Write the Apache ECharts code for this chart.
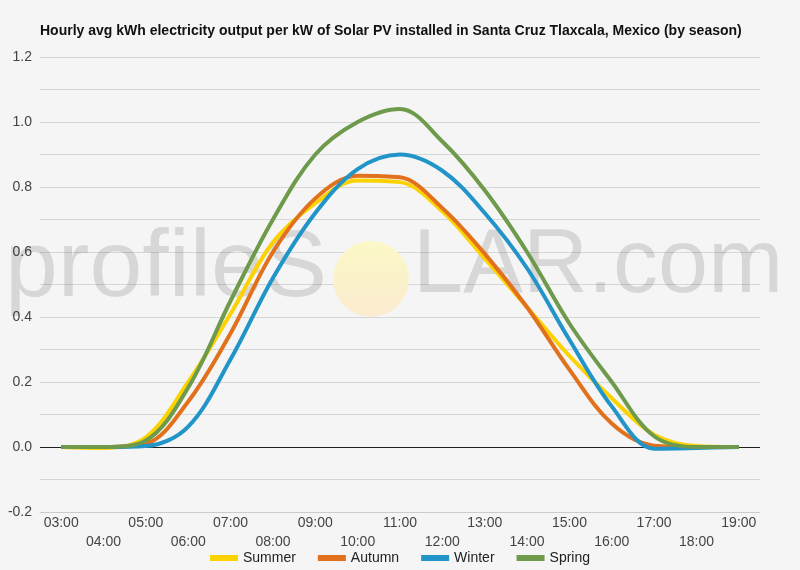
<!DOCTYPE html>
<html>
<head>
<meta charset="utf-8">
<script src="https://cdn.jsdelivr.net/npm/echarts@6/dist/echarts.min.js"></script>
<style>
  html, body { margin: 0; padding: 0; background: #f5f5f5; }
  #chart { width: 800px; height: 570px; }
</style>
</head>
<body>
<div id="chart"></div>
<script>
// hourly values
const hours = ['03:00', '04:00', '05:00', '06:00', '07:00', '08:00', '09:00', '10:00', '11:00',
    '12:00', '13:00', '14:00', '15:00', '16:00', '17:00', '18:00', '19:00'];
const summer = [0, -0.003, 0.03, 0.2, 0.41, 0.63, 0.75, 0.82, 0.815, 0.725, 0.58, 0.43, 0.28, 0.15, 0.038, 0.003, 0];
const autumn = [0, 0, 0.01, 0.14, 0.35, 0.6, 0.765, 0.835, 0.83, 0.735, 0.595, 0.43, 0.238, 0.072, 0.004, 0, 0];
const winter = [0, 0, 0.003, 0.063, 0.27, 0.52, 0.72, 0.855, 0.9, 0.85, 0.72, 0.55, 0.33, 0.125, -0.005, -0.003, 0];
const spring = [0, 0, 0.02, 0.183, 0.45, 0.7, 0.9, 1.0, 1.04, 0.94, 0.79, 0.6, 0.38, 0.2, 0.033, 0, 0];

const seasons = ['Summer', 'Autumn', 'Winter', 'Spring'];
const colors = ['#fcd200', '#e2711d', '#2194c8', '#6e9a4c'];
const values = [summer, autumn, winter, spring];

const font = "'Liberation Sans', Arial, sans-serif";
const chart = echarts.init(document.getElementById('chart'));

const series = seasons.map((name, i) => ({
    name: name,
    type: 'line',
    data: values[i],
    smooth: 0.35,
    showSymbol: false,
    lineStyle: { width: 4, color: colors[i] },
    itemStyle: { color: colors[i] },
    z: 3
}));
// black zero line
series[0].markLine = {
    silent: true,
    symbol: 'none',
    label: { show: false },
    lineStyle: { color: '#222', width: 1, type: 'solid' },
    data: [{ yAxis: 0 }],
    z: 2
};

chart.setOption({
    backgroundColor: '#f5f5f5',
    animation: false,
    textStyle: { fontFamily: font },
    title: {
        text: 'Hourly avg kWh electricity output per kW of Solar PV installed in Santa Cruz Tlaxcala, Mexico (by season)',
        left: 35,
        top: 19,
        textStyle: { fontSize: 14, fontWeight: 'bold', color: '#111', fontFamily: font }
    },
    legend: {
        data: seasons,
        top: 551,
        left: 'center',
        padding: 0,
        icon: 'rect',
        itemWidth: 28,
        itemHeight: 6,
        itemGap: 22,
        textStyle: { fontSize: 14, color: '#222', fontFamily: font }
    },
    grid: { left: 40, right: 40, top: 57, bottom: 58 },
    graphic: [
        {
            type: 'text', left: 5, top: 222, z: 1, silent: true,
            style: { text: 'profileS', font: '95px ' + font, fill: 'rgba(0,0,0,0.12)' }
        },
        {
            type: 'circle', z: 1, silent: true,
            shape: { cx: 371, cy: 279, r: 38 },
            style: {
                fill: {
                    type: 'linear', x: 0, y: 0, x2: 0, y2: 1,
                    colorStops: [{ offset: 0, color: '#fbf8c6' }, { offset: 1, color: '#fbebd0' }]
                }
            }
        },
        {
            type: 'text', left: 413, top: 222, z: 1, silent: true,
            style: { text: 'LAR.com', font: '90px ' + font, fill: 'rgba(0,0,0,0.12)' }
        }
    ],
    xAxis: {
        type: 'category',
        data: hours,
        boundaryGap: true,
        axisLine: { onZero: false, lineStyle: { color: '#ccc' } },
        axisTick: { show: false },
        axisLabel: {
            interval: 0,
            fontSize: 14,
            color: '#444',
            lineHeight: 19,
            margin: 2,
            formatter: (v, i) => (i % 2 ? '\n' + v : v)
        }
    },
    yAxis: {
        type: 'value',
        min: -0.2,
        max: 1.2,
        interval: 0.1,
        axisLine: { show: false },
        axisTick: { show: false },
        axisLabel: {
            fontSize: 14,
            color: '#444',
            margin: 8,
            formatter: v => (Math.round(v * 10) % 2 === 0 ? v.toFixed(1) : '')
        },
        splitLine: { lineStyle: { color: '#d6d6d6' } }
    },
    series: series
});
</script>
</body>
</html>
